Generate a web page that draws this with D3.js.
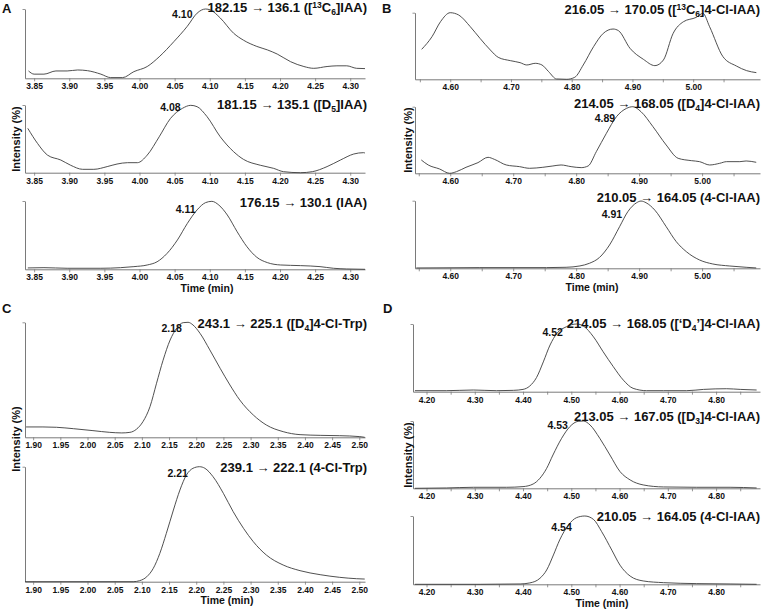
<!DOCTYPE html>
<html>
<head>
    <meta charset="utf-8" />
    <title></title>
    <style>
        body { margin: 0; background: #fff; }
        text { font-family: "Liberation Sans", Arial, sans-serif; font-weight: bold; fill: #111; }
    </style>
</head>
<body>
    <div id="chart"></div>
    <script src="https://cdn.jsdelivr.net/npm/d3@7"></script>
    <script>
        //-------------------------- data --------------------------
        // [time (min), relative intensity (%)]
        var traceA1 = [[3.842, 10.6], [3.850, 6], [3.864, 6], [3.881, 10.6], [3.897, 10.6], [3.912, 12], [3.926, 11], [3.945, 6], [3.959, 1], [3.976, 1], [3.992, 9.6], [4.011, 17], [4.028, 31], [4.049, 53], [4.068, 75], [4.082, 94], [4.094, 100], [4.101, 98.6], [4.115, 87], [4.134, 65], [4.148, 55], [4.167, 46], [4.182, 41], [4.196, 35], [4.215, 24], [4.234, 17], [4.248, 14.4], [4.267, 17], [4.281, 18], [4.295, 18], [4.309, 14.4], [4.321, 14]];
        var traceA2 = [[3.841, 65.5], [3.855, 43], [3.869, 26], [3.888, 18.7], [3.902, 11], [3.919, 5], [3.935, 5], [3.954, 9], [3.968, 12.8], [3.983, 14.8], [3.997, 14.8], [4.011, 26], [4.028, 53], [4.044, 80], [4.061, 95], [4.073, 99.5], [4.082, 97.5], [4.096, 83], [4.115, 53], [4.134, 31], [4.148, 19.7], [4.172, 11], [4.191, 6.4], [4.205, 1.5], [4.229, 0], [4.246, 1.5], [4.267, 9], [4.286, 18.7], [4.305, 27.6], [4.319, 29.6], [4.321, 29]];
        var traceA3 = [[3.841, 2], [3.864, 2.4], [3.897, 1.5], [3.945, 1.5], [3.973, 2.4], [3.992, 3.9], [4.011, 6.3], [4.025, 11], [4.039, 23], [4.054, 43], [4.068, 67], [4.082, 87], [4.094, 97.6], [4.103, 99.5], [4.113, 94], [4.125, 79.5], [4.139, 55], [4.153, 33], [4.167, 17.6], [4.182, 9.8], [4.201, 6.3], [4.229, 5.4], [4.257, 3.9], [4.276, 1.5], [4.295, 0.5], [4.321, 0]];
        var traceB1 = [[4.553, 45], [4.570, 64], [4.584, 86.5], [4.600, 100], [4.614, 96.5], [4.633, 79], [4.649, 61.5], [4.666, 44], [4.679, 33], [4.699, 28], [4.715, 25], [4.726, 21.5], [4.740, 24], [4.751, 21.5], [4.762, 11.5], [4.775, 0.5], [4.792, 0], [4.805, 3], [4.819, 21.5], [4.836, 49], [4.852, 69], [4.868, 75.5], [4.877, 73], [4.896, 46.5], [4.918, 30], [4.937, 20.5], [4.951, 29], [4.967, 69], [4.984, 86.5], [5.005, 93], [5.016, 99], [5.027, 79], [5.049, 34], [5.071, 20], [5.088, 13], [5.104, 10]];
        var traceB2 = [[4.554, 20], [4.565, 12.5], [4.583, 6.5], [4.599, 0], [4.610, 2.5], [4.625, 9], [4.644, 16], [4.660, 24], [4.670, 21], [4.689, 12.5], [4.710, 10], [4.726, 7.5], [4.747, 9], [4.763, 11], [4.776, 12.5], [4.792, 10], [4.808, 8.5], [4.819, 11], [4.832, 32.5], [4.848, 60], [4.864, 85], [4.880, 97.5], [4.890, 100], [4.903, 92.5], [4.922, 70], [4.943, 42.5], [4.962, 22.5], [4.983, 19], [4.996, 17.5], [5.012, 12.5], [5.028, 15], [5.039, 17.5], [5.060, 17.5], [5.070, 18.5], [5.086, 16.5]];
        var traceB3 = [[4.546, 0.5], [4.647, 1], [4.753, 1], [4.784, 1.5], [4.806, 3.5], [4.821, 7.4], [4.837, 16], [4.853, 34.5], [4.869, 61.6], [4.882, 83.7], [4.896, 97], [4.903, 99.5], [4.911, 97], [4.925, 86], [4.943, 61.6], [4.959, 39.4], [4.975, 24.6], [4.996, 12.3], [5.017, 6.4], [5.044, 3.4], [5.070, 1.5], [5.086, 0.5]];
        var traceC1 = [[1.887, 9], [1.918, 9], [1.943, 8.7], [1.974, 7.5], [2.010, 5.8], [2.041, 4.3], [2.063, 3.8], [2.078, 4.3], [2.090, 7], [2.102, 13.6], [2.115, 26.7], [2.127, 47], [2.139, 67], [2.152, 84.6], [2.164, 94.8], [2.176, 99.7], [2.185, 100], [2.194, 97.7], [2.207, 90.4], [2.225, 76], [2.244, 60], [2.262, 45.5], [2.280, 32.5], [2.305, 19.4], [2.329, 10.7], [2.360, 4.9], [2.391, 2.3], [2.428, 1.7], [2.464, 1.4], [2.501, 0.6], [2.510, 0]];
        var traceC2 = [[1.885, 0], [2.084, 0], [2.096, 0.9], [2.109, 4.3], [2.121, 11.6], [2.133, 24.6], [2.145, 42], [2.158, 62.3], [2.170, 79.7], [2.182, 92.8], [2.194, 98.6], [2.206, 100], [2.216, 98.6], [2.231, 91.3], [2.250, 76.8], [2.268, 60.9], [2.287, 46.4], [2.305, 34.8], [2.329, 23.2], [2.360, 14.5], [2.391, 9.6], [2.428, 6.1], [2.464, 3.8], [2.495, 2.6], [2.510, 2.3]];
        var traceD1 = [[4.176, 1.5], [4.241, 1.5], [4.297, 2.5], [4.345, 1.5], [4.380, 2], [4.400, 3.4], [4.414, 8.4], [4.428, 21], [4.442, 44], [4.456, 69], [4.470, 86], [4.490, 96], [4.511, 100], [4.525, 97], [4.546, 81], [4.566, 59], [4.587, 37], [4.608, 17], [4.628, 5], [4.656, 1.5], [4.691, 1.5], [4.739, 1.5], [4.774, 3.4], [4.822, 4.4], [4.850, 3.4], [4.884, 2.5]];
        var traceD2 = [[4.176, 0], [4.241, 0.5], [4.297, 1.5], [4.366, 1.5], [4.400, 2.5], [4.421, 6.4], [4.435, 14.9], [4.449, 29.7], [4.462, 49.5], [4.480, 74.3], [4.497, 91.6], [4.514, 99.5], [4.525, 100], [4.539, 94], [4.559, 74.3], [4.580, 49.5], [4.601, 24.8], [4.622, 12.4], [4.649, 5], [4.691, 2], [4.760, 1.5], [4.829, 1.5], [4.884, 0.5]];
        var traceD3 = [[4.176, 0], [4.311, 0], [4.394, 0.5], [4.414, 2], [4.435, 8.8], [4.449, 21], [4.463, 43], [4.476, 65], [4.494, 86.8], [4.511, 97.6], [4.528, 100], [4.546, 95], [4.563, 77], [4.584, 50], [4.601, 28], [4.622, 12], [4.649, 4.9], [4.691, 2.4], [4.760, 1], [4.829, 0.5], [4.884, 0]];

        // x axis ranges and ticks
        var domainA = [3.837, 4.321];
        var domainB1 = [4.542, 5.110];
        var domainB = [4.544, 5.092];
        var domainC = [1.885, 2.5105];
        var domainD = [4.172, 4.891];
        var ticksA = [3.85, 3.90, 3.95, 4.00, 4.05, 4.10, 4.15, 4.20, 4.25, 4.30];
        var ticksB = [4.55, 4.60, 4.65, 4.70, 4.75, 4.80, 4.85, 4.90, 4.95, 5.00, 5.05];
        var labelsB = [4.60, 4.70, 4.80, 4.90, 5.00];
        var ticksC = [1.90, 1.95, 2.00, 2.05, 2.10, 2.15, 2.20, 2.25, 2.30, 2.35, 2.40, 2.45, 2.50];
        var ticksD = [4.20, 4.25, 4.30, 4.35, 4.40, 4.45, 4.50, 4.55, 4.60, 4.65, 4.70, 4.75, 4.80, 4.85];
        var labelsD = [4.20, 4.30, 4.40, 4.50, 4.60, 4.70, 4.80];

        // transition titles: [text, "sup" | "sub" | ""]
        var titleA1 = [["182.15 \u2192 136.1 ([", ""], ["13", "sup"], ["C", ""], ["6", "sub"], ["]IAA)", ""]];
        var titleA2 = [["181.15 \u2192 135.1 ([D", ""], ["5", "sub"], ["]IAA)", ""]];
        var titleA3 = [["176.15 \u2192 130.1 (IAA)", ""]];
        var titleB1 = [["216.05 \u2192 170.05 ([", ""], ["13", "sup"], ["C", ""], ["6", "sub"], ["]4-Cl-IAA)", ""]];
        var titleB2 = [["214.05 \u2192 168.05 ([D", ""], ["4", "sub"], ["]4-Cl-IAA)", ""]];
        var titleB3 = [["210.05 \u2192 164.05 (4-Cl-IAA)", ""]];
        var titleC1 = [["243.1 \u2192 225.1 ([D", ""], ["4", "sub"], ["]4-Cl-Trp)", ""]];
        var titleC2 = [["239.1 \u2192 222.1 (4-Cl-Trp)", ""]];
        var titleD1 = [["214.05 \u2192 168.05 ([\u2018D", ""], ["4", "sub"], ["\u2019]4-Cl-IAA)", ""]];
        var titleD2 = [["213.05 \u2192 167.05 ([D", ""], ["3", "sub"], ["]4-Cl-IAA)", ""]];
        var titleD3 = [["210.05 \u2192 164.05 (4-Cl-IAA)", ""]];

        // retention time labels: [text, time, intensity] (right end of label)
        var peakA1 = ["4.10", 4.0755, 87];
        var peakA2 = ["4.08", 4.0585, 91.6];
        var peakA3 = ["4.11", 4.0798, 82.9];
        var peakB2 = ["4.89", 4.862, 77.5];
        var peakB3 = ["4.91", 4.873, 74.9];
        var peakC1 = ["2.18", 2.1737, 91.6];
        var peakC2 = ["2.21", 2.1847, 91.0];
        var peakD1 = ["4.52", 4.4826, 82.3];
        var peakD2 = ["4.53", 4.493, 88.1];
        var peakD3 = ["4.54", 4.501, 78.6];
        //-------------------------- end --------------------------

        var width = 765, height = 610;
        var axisColor = "#7a7a7a";
        var lineColor = "#3c3c3c";

        var plots = [
            { data: traceA1, title: titleA1, peak: peakA1, left: 25, right: 365, top: 9, bottom: 78.3, domain: domainA, ticks: ticksA, labels: ticksA, titleX: 367, titleY: 12.3 },
            { data: traceA2, title: titleA2, peak: peakA2, left: 25, right: 365, top: 105, bottom: 172.7, domain: domainA, ticks: ticksA, labels: ticksA, titleX: 367, titleY: 109 },
            { data: traceA3, title: titleA3, peak: peakA3, left: 25, right: 365, top: 201, bottom: 269.3, domain: domainA, ticks: ticksA, labels: ticksA, titleX: 367, titleY: 206.5, time: 207 },
            { data: traceB1, title: titleB1, peak: null, left: 415, right: 760, top: 12.7, bottom: 79.3, domain: domainB1, ticks: ticksB, labels: labelsB, titleX: 760, titleY: 14 },
            { data: traceB2, title: titleB2, peak: peakB2, left: 415, right: 760, top: 106.7, bottom: 173.3, domain: domainB, ticks: ticksB, labels: labelsB, titleX: 760, titleY: 108.3 },
            { data: traceB3, title: titleB3, peak: peakB3, left: 415, right: 760, top: 200.7, bottom: 268.3, domain: domainB, ticks: ticksB, labels: labelsB, titleX: 760, titleY: 201.7, time: 592 },
            { data: traceC1, title: titleC1, peak: peakC1, left: 25, right: 365, top: 322.3, bottom: 437.3, domain: domainC, ticks: ticksC, labels: ticksC, titleX: 367, titleY: 328.3 },
            { data: traceC2, title: titleC2, peak: peakC2, left: 25, right: 365, top: 466.7, bottom: 581.7, domain: domainC, ticks: ticksC, labels: ticksC, titleX: 367, titleY: 472.3, time: 227 },
            { data: traceD1, title: titleD1, peak: peakD1, left: 413, right: 760, top: 324, bottom: 391.7, domain: domainD, ticks: ticksD, labels: labelsD, titleX: 760, titleY: 328.3 },
            { data: traceD2, title: titleD2, peak: peakD2, left: 413, right: 760, top: 421, bottom: 488.3, domain: domainD, ticks: ticksD, labels: labelsD, titleX: 760, titleY: 420.7 },
            { data: traceD3, title: titleD3, peak: peakD3, left: 413, right: 760, top: 516, bottom: 584.3, domain: domainD, ticks: ticksD, labels: labelsD, titleX: 760, titleY: 520.7, time: 602 }
        ];

        var panels = [
            { letter: "A", x: 2, y: 13, ylabX: 19.5, ylabY: 139 },
            { letter: "B", x: 382, y: 13, ylabX: 411.5, ylabY: 140 },
            { letter: "C", x: 2, y: 313, ylabX: 19.5, ylabY: 439 },
            { letter: "D", x: 383, y: 313, ylabX: 411.5, ylabY: 455 }
        ];

        var svg = d3.select("#chart")
            .append("svg")
            .attr("width", width)
            .attr("height", height);

        plots.forEach(function (p) {
            var x = d3.scaleLinear().domain(p.domain).range([p.left, p.right]);
            var y = d3.scaleLinear().domain([0, 100]).range([p.bottom, p.top]);
            var g = svg.append("g");

            var labelSet = p.labels.map(function (v) { return v.toFixed(2); });
            var xAxis = d3.axisBottom(x)
                .tickValues(p.ticks)
                .tickSize(3)
                .tickSizeOuter(0)
                .tickPadding(2)
                .tickFormat(function (d) {
                    return labelSet.indexOf(d.toFixed(2)) >= 0 ? d.toFixed(2) : "";
                });
            var yAxis = d3.axisLeft(y)
                .tickValues([100])
                .tickSize(2.5)
                .tickSizeOuter(0)
                .tickFormat("");

            var gx = g.append("g")
                .attr("transform", "translate(0," + p.bottom + ")")
                .call(xAxis);
            var gy = g.append("g")
                .attr("transform", "translate(" + p.left + ",0)")
                .call(yAxis);
            [gx, gy].forEach(function (a) {
                a.select(".domain").attr("stroke", axisColor).attr("stroke-width", 1);
                a.selectAll(".tick line").attr("stroke", axisColor).attr("stroke-width", 0.8);
            });
            gx.selectAll(".tick text")
                .attr("fill", "#111")
                .style("font-size", "8.5px");

            // trace
            var line = d3.line()
                .x(function (d) { return x(d[0]); })
                .y(function (d) { return y(d[1]); })
                .curve(d3.curveMonotoneX);
            g.append("path")
                .datum(p.data)
                .attr("d", line)
                .attr("fill", "none")
                .attr("stroke", lineColor)
                .attr("stroke-width", 0.9);

            // title
            var t = g.append("text")
                .attr("x", p.titleX)
                .attr("y", p.titleY)
                .attr("text-anchor", "end")
                .style("font-size", "13px");
            var shift = 0;
            p.title.forEach(function (s) {
                var target = s[1] === "sup" ? -4.5 : (s[1] === "sub" ? 3 : 0);
                t.append("tspan")
                    .attr("dy", target - shift)
                    .style("font-size", s[1] ? "8.5px" : "13px")
                    .text(s[0]);
                shift = target;
            });

            // retention time
            if (p.peak) {
                g.append("text")
                    .attr("x", x(p.peak[1]))
                    .attr("y", y(p.peak[2]))
                    .attr("text-anchor", "end")
                    .style("font-size", "10.5px")
                    .text(p.peak[0]);
            }

            if (p.time) {
                g.append("text")
                    .attr("x", p.time)
                    .attr("y", p.bottom + 22.5)
                    .attr("text-anchor", "middle")
                    .style("font-size", "10.5px")
                    .text("Time (min)");
            }
        });

        panels.forEach(function (d) {
            svg.append("text")
                .attr("x", d.x)
                .attr("y", d.y)
                .style("font-size", "13px")
                .text(d.letter);
            svg.append("text")
                .attr("transform", "translate(" + d.ylabX + "," + d.ylabY + ") rotate(-90)")
                .attr("text-anchor", "middle")
                .style("font-size", "11px")
                .text("Intensity (%)");
        });
    </script>
</body>
</html>
